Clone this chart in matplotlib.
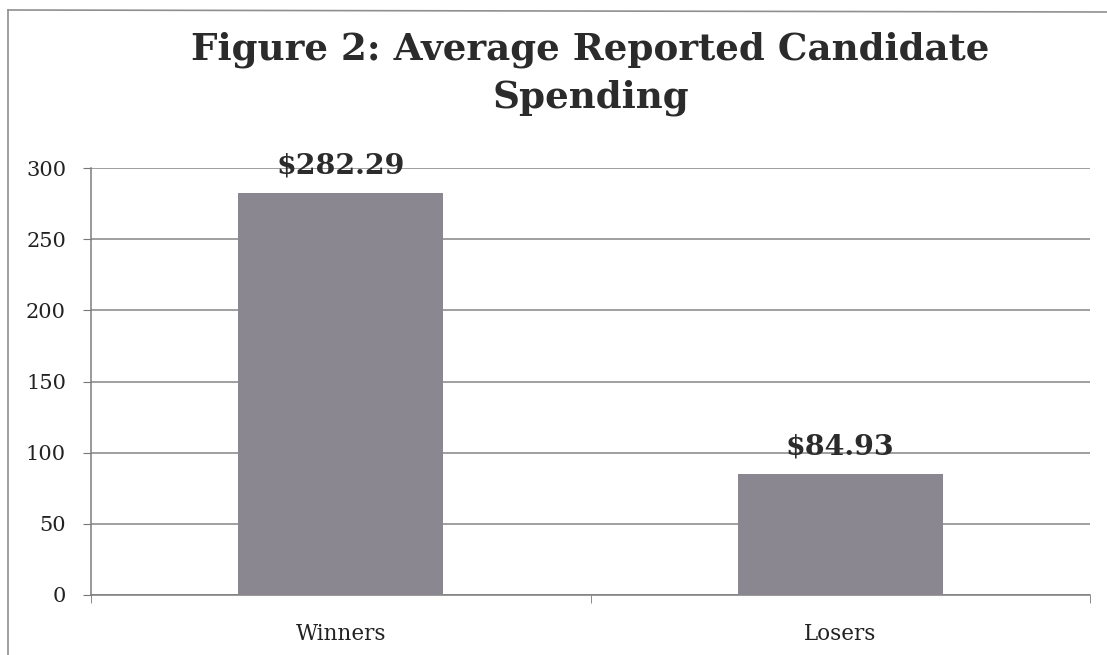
import matplotlib
matplotlib.use('Agg')
import matplotlib.pyplot as plt
from matplotlib.lines import Line2D

# Data
categories = ['Winners', 'Losers']
spending = [282.29, 84.93]
value_labels = ['$282.29', '$84.93']
y_ticks = [0, 50, 100, 150, 200, 250, 300]
title_lines = ['Figure 2: Average Reported Candidate', 'Spending']

plt.rcParams['font.family'] = ['DejaVu Serif']

W, H = 1107, 655
fig = plt.figure(figsize=(W / 100, H / 100), dpi=100)
ax = fig.add_axes([91 / W, 1 - 595 / H, (1090 - 91) / W, (595 - 168) / H])

x = range(len(categories))
bars = ax.bar(x, spending, width=0.41, color='#8a8790', zorder=3)

for bar, label in zip(bars, value_labels):
    ax.annotate(label, (bar.get_x() + bar.get_width() / 2, bar.get_height()),
                xytext=(0, 19.5), textcoords='offset points',
                ha='center', va='center', fontsize=20.5, fontweight='bold',
                color='#2b2b2b', zorder=4)

ax.set_xlim(-0.5, len(categories) - 0.5)
ax.set_ylim(0, 300)
ax.set_yticks(y_ticks)
ax.set_xticks(list(x))
ax.set_xticklabels(categories)
ax.set_xticks([-0.5, 0.5, 1.5], minor=True)
ax.tick_params(axis='x', which='major', length=0, pad=20, labelsize=15.5, labelcolor='#222222')
ax.tick_params(axis='x', which='minor', length=6, color='#777777', direction='out')
ax.tick_params(axis='y', length=6, color='#777777', labelsize=15, pad=12, labelcolor='#222222')

ax.grid(axis='y', color='#858585', linewidth=1.1, zorder=0)
for side in ['top', 'right']:
    ax.spines[side].set_visible(False)
for side in ['left', 'bottom']:
    ax.spines[side].set_color('#7d7d7d')
    ax.spines[side].set_linewidth(1.1)

# two-line title, centred over the plot area
cx = (91 + 1090) / 2 / W
fig.text(cx, 1 - 60 / H, title_lines[0], ha='center', va='baseline',
         fontsize=26.8, fontweight='bold', color='#2b2b2b')
fig.text(cx, 1 - 108 / H, title_lines[1], ha='center', va='baseline',
         fontsize=26.8, fontweight='bold', color='#2b2b2b')

# scanned page frame (left and top edges)
fig.add_artist(Line2D([8 / W, 8 / W], [0, 1 - 10 / H], color='#8f8f8f', linewidth=1.2))
fig.add_artist(Line2D([8 / W, 1], [1 - 10 / H, 1 - 12 / H], color='#8f8f8f', linewidth=1.2))

fig.savefig('out.png', dpi=100)
